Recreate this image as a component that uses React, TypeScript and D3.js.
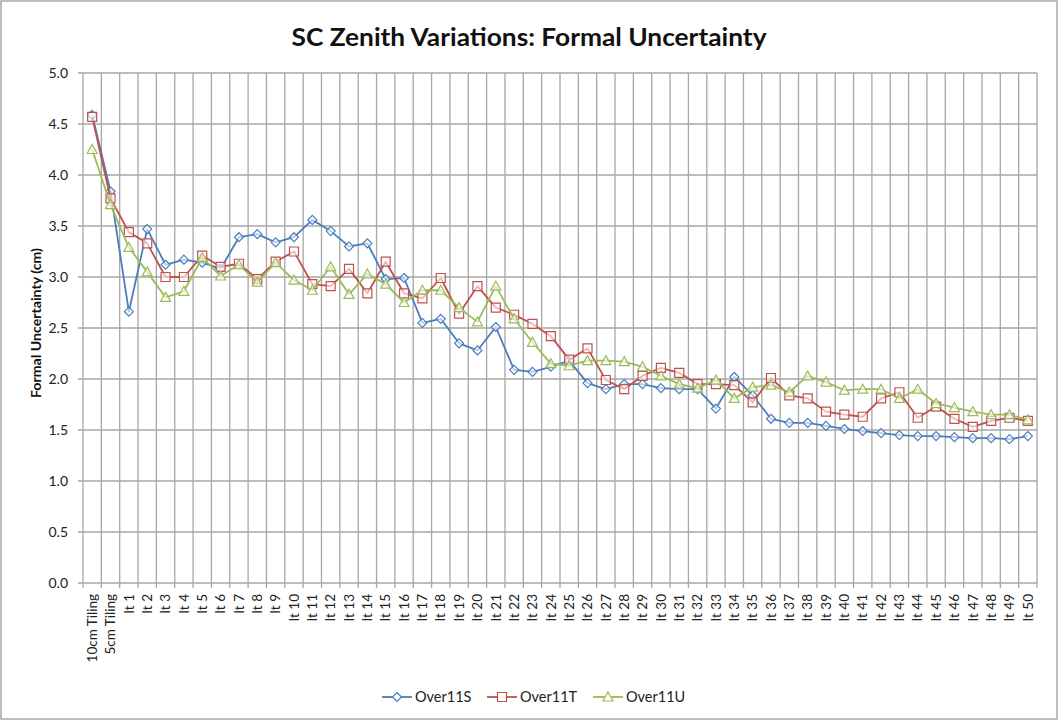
import React, { useRef, useEffect } from 'react';
import * as d3 from 'd3';

const categories: string[] = ['10cm Tiling', '5cm Tiling'].concat(
  Array.from({ length: 50 }, (_, i) => `It ${i + 1}`)
);

const over11S: number[] = [
  4.59, 3.84, 2.66, 3.47, 3.12, 3.17, 3.14, 3.08, 3.39, 3.42,
  3.34, 3.39, 3.56, 3.45, 3.30, 3.33, 2.98, 2.99, 2.55, 2.59,
  2.35, 2.28, 2.51, 2.09, 2.07, 2.12, 2.18, 1.96, 1.90, 1.95,
  1.95, 1.91, 1.90, 1.90, 1.71, 2.02, 1.84, 1.61, 1.57, 1.57,
  1.54, 1.51, 1.49, 1.47, 1.45, 1.44, 1.44, 1.43, 1.42, 1.42,
  1.41, 1.44
];

const over11T: number[] = [
  4.57, 3.77, 3.44, 3.33, 3.00, 3.00, 3.21, 3.10, 3.13, 2.98,
  3.15, 3.25, 2.93, 2.91, 3.08, 2.84, 3.15, 2.84, 2.79, 2.99,
  2.64, 2.91, 2.70, 2.63, 2.54, 2.42, 2.19, 2.30, 1.99, 1.90,
  2.03, 2.11, 2.06, 1.95, 1.95, 1.94, 1.77, 2.01, 1.84, 1.81,
  1.68, 1.65, 1.63, 1.81, 1.87, 1.62, 1.73, 1.61, 1.53, 1.59,
  1.62, 1.59
];

const over11U: number[] = [
  4.25, 3.71, 3.29, 3.05, 2.80, 2.86, 3.19, 3.01, 3.12, 2.95,
  3.14, 2.97, 2.87, 3.10, 2.83, 3.03, 2.93, 2.75, 2.87, 2.87,
  2.70, 2.56, 2.91, 2.59, 2.36, 2.15, 2.13, 2.18, 2.18, 2.17,
  2.12, 2.03, 1.95, 1.91, 1.99, 1.81, 1.92, 1.94, 1.87, 2.03,
  1.97, 1.89, 1.90, 1.90, 1.81, 1.90, 1.76, 1.72, 1.68, 1.65,
  1.65, 1.60
];

const seriesNames = ['Over11S', 'Over11T', 'Over11U'];
const seriesColors = ['#4a7ebb', '#c0504d', '#9bbb59'];
const yTicks: number[] = [0, 0.5, 1, 1.5, 2, 2.5, 3, 3.5, 4, 4.5, 5];

const W = 1059;
const H = 721;
const FONT = 'Lato, "Open Sans", "DejaVu Sans", sans-serif';

const App: React.FC = () => {
  const svgRef = useRef<SVGSVGElement>(null);

  useEffect(() => {
    const svg = d3.select(svgRef.current);
    svg.selectAll('*').remove();

    const margin = { top: 73, left: 83, right: 22, bottom: 138 };
    const innerW = W - margin.left - margin.right;
    const innerH = H - margin.top - margin.bottom;

    // outer frame
    svg.append('rect')
      .attr('x', 1).attr('y', 1)
      .attr('width', W - 3).attr('height', H - 3)
      .attr('fill', '#fff')
      .attr('stroke', '#a6a6a6')
      .attr('stroke-width', 1.5);

    const x = d3.scaleBand<string>()
      .domain(categories)
      .range([0, innerW])
      .padding(0);

    const y = d3.scaleLinear()
      .domain([0, 5])
      .range([innerH, 0]);

    const g = svg.append('g')
      .attr('transform', `translate(${margin.left},${margin.top})`);

    // horizontal grid
    g.append('g')
      .selectAll('line')
      .data(yTicks)
      .enter()
      .append('line')
      .attr('x1', -5)
      .attr('x2', innerW)
      .attr('y1', d => y(d))
      .attr('y2', d => y(d))
      .attr('stroke', '#a6a6a6')
      .attr('stroke-width', 1.3);

    // vertical grid (category boundaries)
    const bounds = categories.map(c => x(c) as number).concat([innerW]);
    g.append('g')
      .selectAll('line')
      .data(bounds)
      .enter()
      .append('line')
      .attr('x1', d => d)
      .attr('x2', d => d)
      .attr('y1', 0)
      .attr('y2', innerH + 5)
      .attr('stroke', '#a6a6a6')
      .attr('stroke-width', 1.3);

    // y tick labels
    g.append('g')
      .selectAll('text')
      .data(yTicks)
      .enter()
      .append('text')
      .attr('x', -15)
      .attr('y', d => y(d))
      .attr('dy', '0.35em')
      .attr('text-anchor', 'end')
      .style('font-family', FONT)
      .style('font-size', '14px')
      .style('fill', '#222')
      .text(d => d.toFixed(1));

    // x tick labels, rotated
    g.append('g')
      .selectAll('text')
      .data(categories)
      .enter()
      .append('text')
      .attr('transform', d => `translate(${(x(d) as number) + x.bandwidth() / 2},${innerH + 11}) rotate(-90)`)
      .attr('text-anchor', 'end')
      .attr('dy', '0.35em')
      .style('font-family', FONT)
      .style('font-size', '13.5px')
      .style('fill', '#222')
      .text(d => d);

    const allSeries = [over11S, over11T, over11U];
    const cx = (i: number) => (x(categories[i]) as number) + x.bandwidth() / 2;

    const markerPath = (k: number) => {
      if (k === 0) return 'M0,-4.5L4.5,0L0,4.5L-4.5,0Z';
      if (k === 1) return 'M-4.5,-4.5H4.5V4.5H-4.5Z';
      return 'M0,-5L5,4H-5Z';
    };

    allSeries.forEach((vals, k) => {
      const line = d3.line<number>()
        .x((_, i) => cx(i))
        .y(d => y(d));

      g.append('path')
        .datum(vals)
        .attr('fill', 'none')
        .attr('stroke', seriesColors[k])
        .attr('stroke-width', 1.8)
        .attr('stroke-linejoin', 'round')
        .attr('d', line);

      g.append('g')
        .selectAll('path')
        .data(vals)
        .enter()
        .append('path')
        .attr('transform', (d, i) => `translate(${cx(i)},${y(d)})`)
        .attr('d', markerPath(k))
        .attr('fill', '#fff')
        .attr('fill-opacity', 0.6)
        .attr('stroke', seriesColors[k])
        .attr('stroke-width', 1.2);
    });

    // title
    svg.append('text')
      .attr('x', 529)
      .attr('y', 46)
      .attr('text-anchor', 'middle')
      .attr('textLength', 475)
      .attr('lengthAdjust', 'spacingAndGlyphs')
      .style('font-family', FONT)
      .style('font-size', '25px')
      .style('font-weight', 'bold')
      .style('fill', '#111')
      .text('SC Zenith Variations: Formal Uncertainty');

    // y axis title
    svg.append('text')
      .attr('transform', `translate(36,323) rotate(-90)`)
      .attr('text-anchor', 'middle')
      .attr('dy', '0.35em')
      .attr('textLength', 150)
      .attr('lengthAdjust', 'spacingAndGlyphs')
      .style('font-family', FONT)
      .style('font-size', '14px')
      .style('font-weight', 'bold')
      .style('fill', '#111')
      .text('Formal Uncertainty (cm)');

    // legend
    const legendX = [382, 487, 593];
    seriesNames.forEach((name, k) => {
      const lg = svg.append('g').attr('transform', `translate(${legendX[k]},697)`);
      lg.append('line')
        .attr('x1', 0).attr('x2', 30)
        .attr('y1', 0).attr('y2', 0)
        .attr('stroke', seriesColors[k])
        .attr('stroke-width', 1.8);
      lg.append('path')
        .attr('transform', 'translate(15,0)')
        .attr('d', markerPath(k))
        .attr('fill', '#fff')
        .attr('stroke', seriesColors[k])
        .attr('stroke-width', 1.2);
      lg.append('text')
        .attr('x', 33)
        .attr('y', 0)
        .attr('dy', '0.35em')
        .style('font-family', FONT)
        .style('font-size', '14.5px')
        .style('fill', '#222')
        .text(name);
    });
  }, []);

  return (
    <div style={{ position: 'absolute', left: 0, top: 0 }}>
      <svg ref={svgRef} width={W} height={H} style={{ display: 'block' }} />
    </div>
  );
};

export default App;
